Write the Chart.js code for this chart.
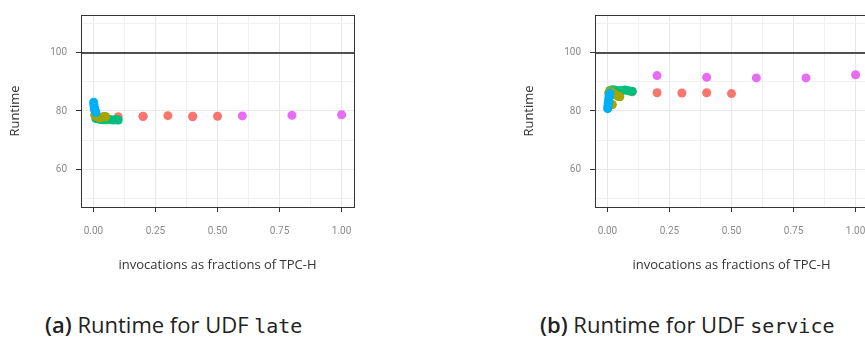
<!DOCTYPE html>
<html>
<head>
<meta charset="utf-8">
<script src="https://cdn.jsdelivr.net/npm/chart.js@4/dist/chart.umd.min.js"></script>
<style>
  html, body { margin: 0; padding: 0; background: #fff; }
  body { width: 865px; height: 338px; overflow: hidden; position: relative; }
  canvas.panel { position: absolute; top: 0; }
  .caption { position: absolute; top: 311px; font-family: "Open Sans", sans-serif; font-size: 22px; line-height: 26px; color: #222; white-space: nowrap; }
  .caption b { font-weight: 600; }
  .caption code { font-family: "DejaVu Sans Mono", monospace; font-size: 20px; }
</style>
</head>
<body>
<canvas id="late" class="panel" width="400" height="300" style="left:0px"></canvas>
<canvas id="service" class="panel" width="400" height="300" style="left:514px"></canvas>
<div class="caption" style="left:45px"><b>(a)</b> Runtime for UDF <code>late</code></div>
<div class="caption" style="left:540px"><b>(b)</b> Runtime for UDF <code>service</code></div>
<script>
// x positions of each group (fraction of TPC-H invocations)
const redX = [0.1, 0.2, 0.3, 0.4, 0.5];
const magentaX = [0.2, 0.4, 0.6, 0.8, 1.0];
const greenX = [0.01, 0.02, 0.03, 0.04, 0.05, 0.06, 0.07, 0.08, 0.09, 0.1];
const oliveX = [0.005, 0.01, 0.015, 0.02, 0.025, 0.03, 0.035, 0.04, 0.045, 0.05];
const blueX = [0.001, 0.002, 0.003, 0.004, 0.005, 0.006, 0.007, 0.008, 0.009, 0.01];

// UDF late
const lateRed = [78.0, 78.2, 78.4, 78.2, 78.2];
const lateMagenta = [78.1, 78.0, 78.3, 78.5, 78.7];
const lateGreen = [77.4, 77.2, 77.1, 77.0, 77.0, 77.1, 77.0, 76.9, 77.0, 76.9];
const lateOlive = [78.6, 78.3, 78.0, 77.8, 77.8, 77.7, 77.8, 78.0, 78.1, 78.0];
const lateBlue = [83.0, 82.2, 81.5, 81.0, 80.6, 80.3, 80.0, 79.8, 79.6, 79.5];

// UDF service
const serviceRed = [86.6, 86.3, 86.2, 86.3, 86.0];
const serviceMagenta = [92.2, 91.6, 91.4, 91.4, 92.5];
const serviceGreen = [87.1, 87.3, 87.2, 87.0, 87.0, 87.1, 87.2, 87.1, 86.9, 86.8];
const serviceOlive = [86.2, 86.8, 86.6, 82.2, 86.0, 85.8, 85.5, 85.3, 85.0, 84.9];
const serviceBlue = [80.8, 81.6, 82.4, 83.0, 83.6, 84.3, 84.9, 85.4, 85.8, 86.1];

// reference runtime line
const refX = [-0.05, 1.05];
const refY = [100, 100];

const xTicks = [0, 0.125, 0.25, 0.375, 0.5, 0.625, 0.75, 0.875, 1.0];
const xMajor = [0, 0.25, 0.5, 0.75, 1.0];
const yTicks = [50, 60, 70, 80, 90, 100, 110];
const yMajor = [60, 80, 100];

const toPoints = (xs, ys) => xs.map((x, i) => ({ x: x, y: ys[i] }));

const tickFont = { family: "'Liberation Sans Narrow', 'Roboto', sans-serif", size: 10 };
const titleFont = { family: "'Open Sans', sans-serif", size: 13 };

const boxPlugin = {
  id: "box",
  afterDraw(chart) {
    const { ctx, chartArea } = chart;
    ctx.save();
    ctx.strokeStyle = "#333";
    ctx.lineWidth = 1;
    ctx.strokeRect(chartArea.left + 0.5, chartArea.top + 0.5,
      chartArea.right - chartArea.left, chartArea.bottom - chartArea.top);
    ctx.restore();
  },
};

const scatterSet = (label, xs, ys, color, order) => ({
  type: "scatter",
  label: label,
  data: toPoints(xs, ys),
  backgroundColor: color,
  borderWidth: 0,
  pointRadius: 4.5,
  pointHoverRadius: 4.5,
  order: order,
});

const drawPanel = (canvas, red, magenta, green, olive, blue) => {
  return new Chart(canvas, {
    type: "scatter",
    data: {
      datasets: [
        {
          type: "line",
          label: "reference",
          data: toPoints(refX, refY),
          borderColor: "#1a1a1a",
          borderWidth: 1.5,
          pointRadius: 0,
          order: 6,
        },
        scatterSet("blue", blueX, blue, "#00B0F6", 0),
        scatterSet("olive", oliveX, olive, "#A3A500", 1),
        scatterSet("green", greenX, green, "#00BF7D", 2),
        scatterSet("red", redX, red, "#F8766D", 3),
        scatterSet("magenta", magentaX, magenta, "#E76BF3", 4),
      ],
    },
    options: {
      responsive: false,
      animation: false,
      layout: { padding: { left: 0, top: 15, right: 46, bottom: 0 } },
      plugins: { legend: { display: false }, tooltip: { enabled: false } },
      scales: {
        x: {
          type: "linear",
          min: -0.05,
          max: 1.05,
          afterBuildTicks: (scale) => { scale.ticks = xTicks.map((v) => ({ value: v })); },
          afterFit: (scale) => { scale.height = 93; },
          border: { display: false },
          grid: {
            color: (c) => xMajor.includes(c.tick.value) ? "#e8e8e8" : "#f1f1f1",
            tickColor: (c) => xMajor.includes(c.tick.value) ? "#333" : "rgba(0,0,0,0)",
            tickLength: 5,
          },
          ticks: {
            autoSkip: false,
            maxRotation: 0,
            padding: 13,
            color: "#8a8a8a",
            font: tickFont,
            callback: (v) => xMajor.includes(v) ? v.toFixed(2) : "",
          },
          title: {
            display: true,
            text: "invocations as fractions of TPC-H",
            color: "#333",
            font: titleFont,
            padding: { top: 0, bottom: 27 },
          },
        },
        y: {
          type: "linear",
          min: 46.9,
          max: 113.1,
          afterBuildTicks: (scale) => { scale.ticks = yTicks.map((v) => ({ value: v })); },
          afterFit: (scale) => { scale.width = 81; },
          border: { display: false },
          grid: {
            color: (c) => yMajor.includes(c.tick.value) ? "#e8e8e8" : "#f1f1f1",
            tickColor: (c) => yMajor.includes(c.tick.value) ? "#333" : "rgba(0,0,0,0)",
            tickLength: 5,
          },
          ticks: {
            padding: 9,
            color: "#8a8a8a",
            font: tickFont,
            callback: (v) => yMajor.includes(v) ? String(v) : "",
          },
          title: {
            display: true,
            text: "Runtime",
            color: "#333",
            font: titleFont,
            padding: { top: 7, bottom: 0 },
          },
        },
      },
    },
    plugins: [boxPlugin],
  });
};

drawPanel(document.getElementById("late"), lateRed, lateMagenta, lateGreen, lateOlive, lateBlue);
drawPanel(document.getElementById("service"), serviceRed, serviceMagenta, serviceGreen, serviceOlive, serviceBlue);
</script>
</body>
</html>
